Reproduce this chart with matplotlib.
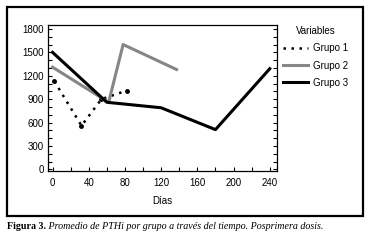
import matplotlib
matplotlib.use("Agg")
import matplotlib.pyplot as plt
import matplotlib.patches as mpatches
import matplotlib.ticker as mtick
from matplotlib.lines import Line2D

# Data
g1_x = [2, 32, 54, 82]
g1_y = [1130, 560, 900, 1010]
g2_x = [0, 62, 78, 137]
g2_y = [1310, 860, 1600, 1280]
g3_x = [0, 60, 120, 180, 240]
g3_y = [1500, 860, 790, 510, 1290]

x_ticks = [0, 40, 80, 120, 160, 200, 240]
y_ticks = [0, 300, 600, 900, 1200, 1500, 1800]

plt.rcParams["font.family"] = ["Liberation Sans", "DejaVu Sans"]

fig = plt.figure(figsize=(3.69, 2.45), dpi=100)
W, H = 369, 245

# outer frame around the chart
frame = mpatches.Rectangle(
    (7 / W, 1 - 216 / H), (363 - 7) / W, (216 - 7) / H,
    transform=fig.transFigure, fill=False, edgecolor="black", linewidth=1.6,
)
fig.patches.append(frame)

ax = fig.add_axes([48 / W, 1 - 171 / H, (277 - 48) / W, (171 - 25) / H])

dot_style = dict(color="black", linestyle=(0, (1, 2.2)), linewidth=1.8)
ax.plot(g1_x, g1_y, **dot_style)
ax.plot(g1_x, g1_y, "o", color="black", markersize=2.5)
ax.plot(g2_x, g2_y, color="#868686", linewidth=2.2)
ax.plot(g3_x, g3_y, color="black", linewidth=2.2)

handles = [
    Line2D([], [], **dot_style),
    Line2D([], [], color="#868686", linewidth=2.2),
    Line2D([], [], color="black", linewidth=2.2),
]

ax.set_xlim(-5, 248)
ax.set_ylim(-20, 1850)
ax.set_xticks(x_ticks)
ax.set_yticks(y_ticks)
ax.xaxis.set_minor_locator(mtick.MultipleLocator(20))
ax.yaxis.set_minor_locator(mtick.MultipleLocator(100))
ax.tick_params(which="both", direction="in", length=3, width=0.8,
               labelsize=7, right=True)
ax.tick_params(axis="x", pad=5)
ax.tick_params(axis="y", pad=3)
ax.set_xlabel("Días", fontsize=7, labelpad=6)
for s in ax.spines.values():
    s.set_linewidth(0.9)

ax.legend(handles, ["Grupo 1", "Grupo 2", "Grupo 3"], title="Variables",
          loc="upper left", bbox_to_anchor=(1.01, 1.02), frameon=False,
          fontsize=7, title_fontsize=7, handlelength=2.6, handletextpad=0.5,
          labelspacing=0.75, borderaxespad=0)

# caption
t1 = fig.text(7 / W, 1 - 229 / H, "Figura 3.", fontsize=7.2, fontweight="bold",
              family=["Liberation Serif"])
ax.annotate(" Promedio de PTHi por grupo a través del tiempo. Posprimera dosis.",
            xy=(1, 0), xycoords=t1, va="bottom", ha="left", fontsize=7.2,
            style="italic", family=["Liberation Serif"], annotation_clip=False)

fig.savefig("out.png", dpi=100)
